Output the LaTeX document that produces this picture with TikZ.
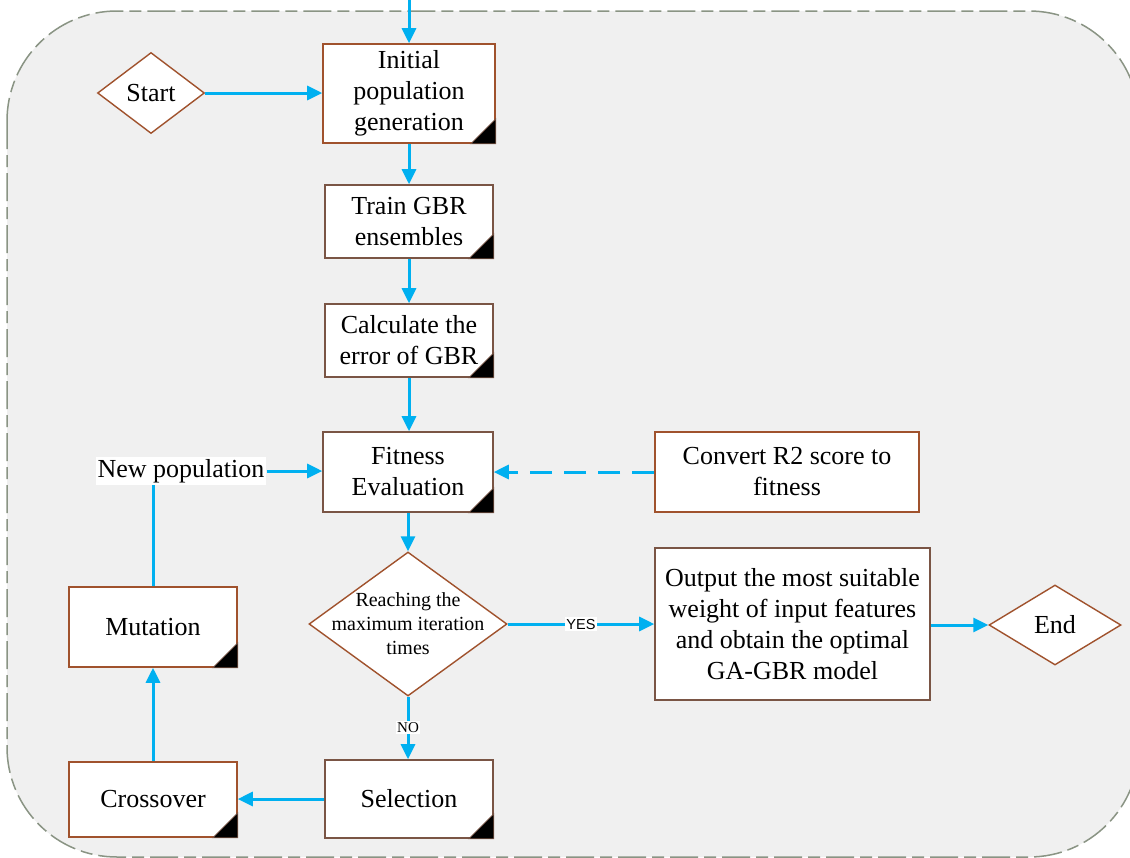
\documentclass[tikz,border=0pt]{standalone}
\usepackage{fontspec}
\setmainfont{Liberation Serif}
\newfontfamily\labelsans{Liberation Sans}
\usetikzlibrary{arrows.meta,shapes.geometric}
\definecolor{flowblue}{HTML}{00B0F0}
\definecolor{frameline}{HTML}{8A9484}
\definecolor{panel}{HTML}{F0F0F0}
\definecolor{rust}{HTML}{A0522D}
\definecolor{umber}{HTML}{7A5545}
\tikzset{
  every node/.style={font=\fontsize{26}{31}\selectfont, align=center, inner sep=0pt},
  stepbox/.style={rectangle, draw=umber, line width=1.6pt, fill=white},
  stepboxr/.style={stepbox, draw=rust},
  decide/.style={diamond, draw=rust, line width=1.4pt, fill=white, inner sep=0pt},
  flow/.style={draw=flowblue, line width=3pt, -{Triangle[length=15pt,width=14pt]}},
  flowline/.style={draw=flowblue, line width=3pt},
  tag/.style={fill=white, inner sep=1.5pt}
}
% black corner mark in the lower right of a process box
\newcommand{\cornermark}[1]{%
  \fill[black, draw=umber, line width=0.8pt] ([xshift=-25pt]#1.south east) -- (#1.south east) -- ([yshift=25pt]#1.south east) -- cycle;}
\begin{document}
\begin{tikzpicture}[x=1pt, y=-1pt]
\useasboundingbox (0,0) rectangle (1130,857);
\fill[white] (0,0) rectangle (1130,857);
% dashed rounded frame around the whole flow
\begin{scope}
\clip (0,0) rectangle (1130,857);
\draw[frameline, fill=panel, line width=1.5pt, rounded corners=110pt,
      dash pattern=on 28pt off 6pt on 12pt off 6pt]
  (7,11) rectangle (1139,857);
\end{scope}

% process boxes
\node[stepboxr, minimum width=172pt, minimum height=99pt] (init) at (409,93.5) {Initial\\population\\generation};
\node[stepbox, minimum width=168pt, minimum height=73pt] (train) at (409,221.5) {Train GBR\\ensembles};
\node[stepbox, minimum width=168pt, minimum height=73pt] (calc) at (409,340.5) {Calculate the\\error of GBR};
\node[stepbox, minimum width=170pt, minimum height=80pt] (fit) at (408,472) {Fitness\\Evaluation};
\node[stepboxr, minimum width=264pt, minimum height=80pt] (conv) at (787,472) {Convert R2 score to\\fitness};
\node[stepboxr, minimum width=168pt, minimum height=80pt] (mut) at (153,627) {Mutation};
\node[stepbox, minimum width=275pt, minimum height=152pt] (out) at (792.5,624) {Output the most suitable\\weight of input features\\and obtain the optimal\\GA-GBR model};
\node[stepbox, minimum width=168pt, minimum height=78pt] (sel) at (409,799) {Selection};
\node[stepboxr, minimum width=168pt, minimum height=75pt] (cross) at (153,799.5) {Crossover};

\cornermark{init}
\cornermark{train}
\cornermark{calc}
\cornermark{fit}
\cornermark{mut}
\cornermark{sel}
\cornermark{cross}

% decisions and terminals
\node[decide, minimum width=107pt, minimum height=81pt] (start) at (151,93) {};
\node at (151,93) {Start};
\node[decide, minimum width=132pt, minimum height=80pt] (end) at (1055,625) {};
\node at (1055,625) {End};
\node[decide, minimum width=198pt, minimum height=144pt] (iter) at (408,624) {};
\node[font=\fontsize{20}{24}\selectfont] at (408,624) {Reaching the\\maximum iteration\\times};

% loop-back label
\node[tag, inner sep=2pt] (newpop) at (181,471) {New population};

% entry arrow from above
\coordinate (entry) at (409,0);
\draw[flow] (entry) -- (init);

% connectors
\draw[flow] (start) -- (init.west |- start);
\draw[flow] (init) -- (train);
\draw[flow] (train) -- (calc);
\draw[flow] (calc) -- (fit.north -| calc);
\draw[flow] (newpop.east) -- (fit.west |- newpop.east);
\draw[flow, dash pattern=on 22pt off 12pt] (conv.west) -- (fit.east |- conv.west);
\draw[flow] (fit) -- (iter);
\draw[flow] (iter.east) -- node[tag, font=\labelsans\fontsize{14.5}{16}\selectfont, pos=0.5] {YES} (out.west |- iter.east);
\draw[flow] (out.east |- end.west) -- (end.west);
\draw[flow] (iter.south) -- node[tag, font=\fontsize{15}{17}\selectfont, pos=0.5] {NO} (iter.south |- sel.north);
\draw[flow] (sel.west) -- (cross.east |- sel.west);
\draw[flow] (cross.north) -- (mut.south);
\draw[flowline] (mut.north) -- (mut.north |- newpop.south);
\end{tikzpicture}
\end{document}
